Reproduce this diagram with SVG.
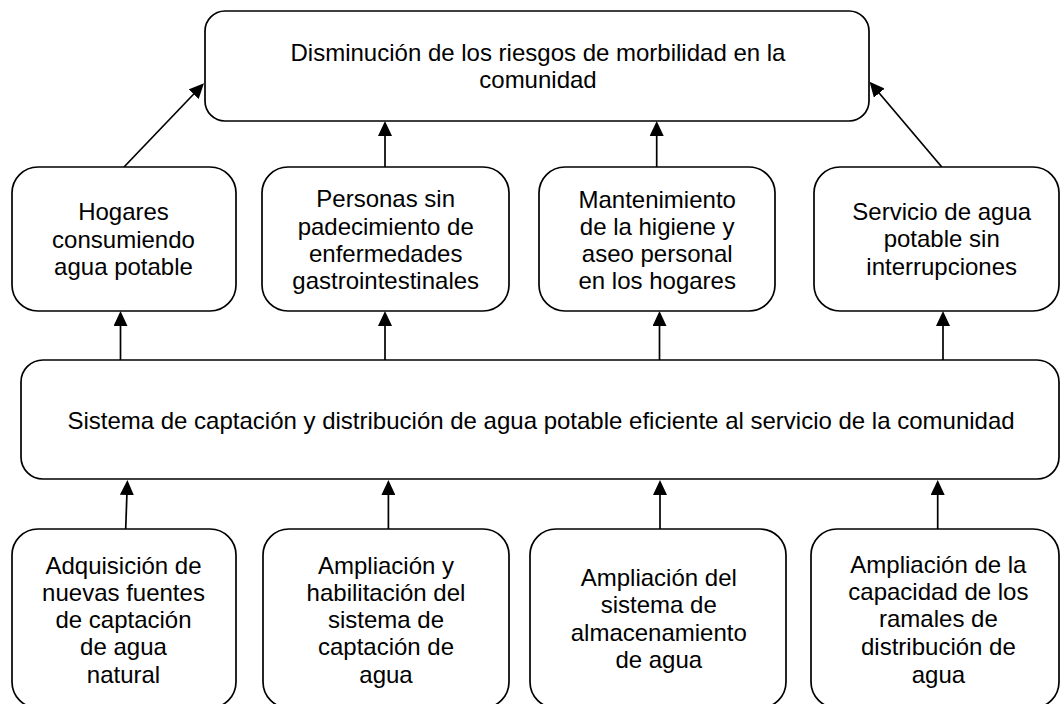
<svg xmlns="http://www.w3.org/2000/svg" width="1060" height="704" viewBox="0 0 1060 704">
<style>
.box{fill:#fff;stroke:#000;stroke-width:1.7}
.t{font-family:"Liberation Sans",Arial,sans-serif;font-size:24px;fill:#000;text-anchor:middle}
.c{stroke:#000;stroke-width:1.7;fill:none;marker-end:url(#ah)}
</style>
<defs>
<marker id="ah" markerUnits="userSpaceOnUse" markerWidth="15" markerHeight="14" refX="12" refY="7" orient="auto" viewBox="0 0 15 14">
<path d="M0,0 L15,7 L0,14 z" fill="#000"/>
</marker>
</defs>
<rect width="1060" height="704" fill="#fff"/>
<g id="connectors">
<line class="c" x1="124" y1="167" x2="201.9" y2="85.5"/>
<line class="c" x1="385" y1="167" x2="385" y2="124"/>
<line class="c" x1="656.7" y1="167" x2="656.7" y2="124"/>
<line class="c" x1="941.8" y1="167" x2="871.5" y2="84"/>
<line class="c" x1="120.5" y1="360" x2="120.5" y2="314"/>
<line class="c" x1="385" y1="360" x2="385" y2="314"/>
<line class="c" x1="659.5" y1="360" x2="659.5" y2="314"/>
<line class="c" x1="943" y1="360" x2="943" y2="314"/>
<line class="c" x1="125.7" y1="529" x2="127.3" y2="483"/>
<line class="c" x1="388.4" y1="529" x2="388.4" y2="483"/>
<line class="c" x1="660" y1="529" x2="660" y2="483"/>
<line class="c" x1="937.7" y1="529" x2="937.7" y2="483"/>
</g>
<g id="goal">
<rect class="box" x="205" y="11" width="664" height="110" rx="20"/>
<text class="t"><tspan x="538" y="61">Disminución de los riesgos de morbilidad en la</tspan><tspan x="538" y="88">comunidad</tspan></text>
</g>
<g id="r1">
<rect class="box" x="12" y="167" width="224" height="144" rx="26"/>
<text class="t"><tspan x="123.5" y="220">Hogares</tspan><tspan x="123.5" y="248">consumiendo</tspan><tspan x="123.5" y="275">agua potable</tspan></text>
</g>
<g id="r2">
<rect class="box" x="262" y="167" width="247" height="144" rx="26"/>
<text class="t"><tspan x="385.7" y="207">Personas sin</tspan><tspan x="385.7" y="235">padecimiento de</tspan><tspan x="385.7" y="262">enfermedades</tspan><tspan x="385.7" y="289">gastrointestinales</tspan></text>
</g>
<g id="r3">
<rect class="box" x="539" y="167" width="236" height="144" rx="26"/>
<text class="t"><tspan x="657.2" y="208">Mantenimiento</tspan><tspan x="657.2" y="235">de la higiene y</tspan><tspan x="657.2" y="262">aseo personal</tspan><tspan x="657.2" y="289">en los hogares</tspan></text>
</g>
<g id="r4">
<rect class="box" x="814" y="167" width="245" height="144" rx="26"/>
<text class="t"><tspan x="941.7" y="220">Servicio de agua</tspan><tspan x="941.7" y="247">potable sin</tspan><tspan x="941.7" y="275">interrupciones</tspan></text>
</g>
<g id="system">
<rect class="box" x="21" y="360" width="1038" height="119" rx="22"/>
<text class="t" x="541" y="429">Sistema de captación y distribución de agua potable eficiente al servicio de la comunidad</text>
</g>
<g id="b1">
<rect class="box" x="12" y="529" width="224" height="179" rx="26"/>
<text class="t"><tspan x="123.5" y="574">Adquisición de</tspan><tspan x="123.5" y="601">nuevas fuentes</tspan><tspan x="123.5" y="628">de captación</tspan><tspan x="123.5" y="655">de agua</tspan><tspan x="123.5" y="683">natural</tspan></text>
</g>
<g id="b2">
<rect class="box" x="263" y="529" width="246" height="179" rx="26"/>
<text class="t"><tspan x="386" y="574">Ampliación y</tspan><tspan x="386" y="601">habilitación del</tspan><tspan x="386" y="628">sistema de</tspan><tspan x="386" y="655">captación de</tspan><tspan x="386" y="683">agua</tspan></text>
</g>
<g id="b3">
<rect class="box" x="530" y="529" width="256" height="179" rx="26"/>
<text class="t"><tspan x="658.8" y="586">Ampliación del</tspan><tspan x="658.8" y="613">sistema de</tspan><tspan x="658.8" y="641">almacenamiento</tspan><tspan x="658.8" y="668">de agua</tspan></text>
</g>
<g id="b4">
<rect class="box" x="811" y="529" width="248" height="179" rx="26"/>
<text class="t"><tspan x="938.4" y="573">Ampliación de la</tspan><tspan x="938.4" y="600">capacidad de los</tspan><tspan x="938.4" y="627">ramales de</tspan><tspan x="938.4" y="655">distribución de</tspan><tspan x="938.4" y="683">agua</tspan></text>
</g>
</svg>
